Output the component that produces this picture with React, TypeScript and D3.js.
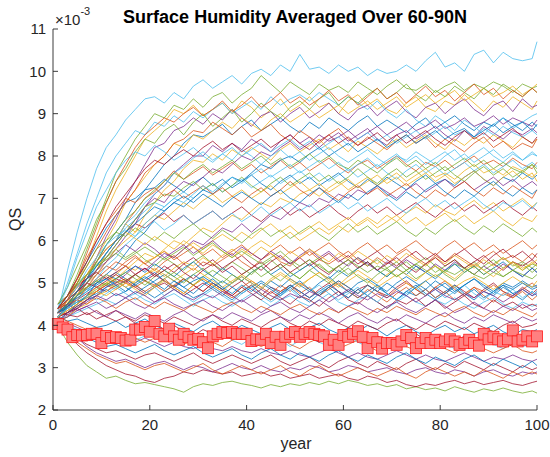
import React from "react";
import * as d3 from "d3";

// sample years for the ensemble runs (every 2 years, plus the last year)
const runYears: number[] = [...d3.range(1, 100, 2), 100];
// years for the red-square series
const meanYears: number[] = d3.range(1, 101);

// red-square series, QS in units of 1e-3
const meanQS: number[] = [
  4.03, 3.95, 3.9, 3.72, 3.77, 3.76, 3.77, 3.8, 3.8, 3.58,
  3.75, 3.7, 3.72, 3.7, 3.64, 3.66, 3.9, 3.9, 3.96, 3.85,
  4.1, 3.8, 3.74, 3.92, 3.74, 3.66, 3.8, 3.72, 3.66, 3.68,
  3.6, 3.46, 3.74, 3.8, 3.84, 3.82, 3.84, 3.8, 3.8, 3.8,
  3.63, 3.67, 3.66, 3.8, 3.58, 3.73, 3.54, 3.73, 3.8, 3.84,
  3.73, 3.8, 3.84, 3.8, 3.77, 3.74, 3.54, 3.66, 3.54, 3.77,
  3.73, 3.8, 3.86, 3.73, 3.46, 3.7, 3.6, 3.45, 3.58, 3.58,
  3.54, 3.62, 3.77, 3.7, 3.46, 3.58, 3.7, 3.58, 3.66, 3.58,
  3.62, 3.67, 3.62, 3.54, 3.58, 3.66, 3.58, 3.52, 3.8, 3.67,
  3.73, 3.67, 3.62, 3.67, 3.88, 3.62, 3.66, 3.74, 3.62, 3.74,
];

// ensemble runs, QS in units of 1e-5 (i.e. hundredths of 1e-3)
const qsRuns: number[][] = [
  [430,450,480,510,550,590,620,650,690,720,750,780,800,830,850,845,860,875,850,870,885,860,875,890,870,855,880,865,890,875,860,880,895,870,885,870,855,875,890,865,880,895,875,860,880,870,890,875,860,880,870],
  [430,450,480,500,520,540,530,550,565,545,560,575,555,570,585,565,580,560,575,590,570,555,575,590,570,585,565,580,595,575,560,580,595,575,590,570,585,600,580,565,585,600,580,595,575,590,570,585,600,580,590],
  [420,450,500,550,610,670,720,760,800,840,860,880,910,900,920,895,910,925,900,930,915,890,910,935,905,920,940,915,925,900,930,945,920,935,910,900,925,940,915,905,930,920,945,925,905,930,915,940,925,910,930],
  [430,440,470,510,560,610,650,700,740,780,820,830,860,870,890,875,900,885,910,890,870,895,905,880,900,915,890,905,925,900,885,910,920,895,915,930,905,890,915,925,900,920,935,910,895,920,930,905,935,915,920],
  [440,470,520,580,640,700,760,800,840,870,900,890,920,910,935,915,940,950,925,945,960,990,970,950,975,960,945,970,955,965,950,975,960,945,965,980,960,955,970,950,965,975,955,970,960,975,965,950,970,960,965],
  [430,530,620,700,770,820,850,885,910,935,940,925,950,935,965,980,960,975,990,970,995,1005,990,1015,1000,1040,1005,1010,995,1015,1000,1010,990,1005,995,1000,1015,1000,1025,1045,1010,1020,1000,1040,1050,1020,1045,1030,1025,1030,1070],
  [430,445,460,475,490,480,495,505,490,475,490,500,485,470,485,500,485,470,490,505,485,470,490,480,495,480,465,485,500,480,465,485,495,480,470,490,505,485,470,490,475,495,480,465,485,500,480,470,490,475,485],
  [420,430,445,460,470,485,470,480,495,480,465,480,495,480,465,475,490,475,460,480,495,475,460,475,490,470,455,475,490,470,480,465,480,495,475,460,480,470,485,465,480,495,475,460,480,470,490,475,460,480,470],
  [430,445,470,500,530,570,600,640,670,700,715,740,765,745,760,775,755,770,785,765,780,760,775,790,770,785,765,780,795,775,760,780,790,770,785,800,780,765,785,775,790,770,785,800,780,790,775,795,780,770,785],
  [430,450,480,520,560,600,640,690,720,750,780,800,830,820,850,840,860,880,865,890,875,860,885,900,880,895,910,890,905,920,900,915,930,910,925,940,915,930,945,925,940,955,930,945,960,940,950,965,945,960,970],
  [420,440,460,490,520,550,580,610,640,680,710,730,760,780,800,800,825,810,830,815,840,825,810,835,850,830,845,820,840,855,835,850,865,840,825,850,860,840,855,870,850,835,860,845,870,855,840,860,850,865,855],
  [400,360,330,305,290,275,280,270,262,265,260,255,250,242,255,262,258,265,268,262,258,252,260,255,262,258,265,260,268,262,270,265,258,262,255,260,250,255,248,252,245,255,248,242,250,245,252,245,240,245,240],
  [440,500,570,640,700,760,800,830,860,850,880,870,895,880,905,890,910,925,900,915,930,910,940,920,935,945,930,950,935,920,940,925,910,930,905,890,910,885,870,895,880,860,885,870,850,875,890,865,880,895,900],
  [410,380,355,335,320,305,295,285,280,270,265,275,280,290,285,295,290,285,290,280,285,290,280,285,275,280,285,275,280,285,275,270,280,275,265,270,260,255,262,258,265,270,262,268,260,265,270,262,258,265,268],
  [420,410,415,405,395,400,410,395,405,415,400,390,405,395,385,400,410,395,385,400,390,380,395,405,390,380,395,405,390,380,395,385,400,390,375,390,400,385,375,390,400,385,395,380,390,400,385,375,390,385,390],
  [440,460,480,490,500,515,500,510,495,480,495,510,490,475,495,510,495,480,465,480,495,475,460,480,495,475,490,470,485,500,480,465,485,470,455,475,490,470,485,465,480,460,475,490,470,455,475,465,480,460,470],
  [440,450,470,500,530,570,600,640,620,660,690,720,740,770,790,785,805,790,815,800,820,805,790,815,830,810,825,840,815,830,810,835,820,805,825,840,820,835,850,830,815,840,825,845,830,850,835,820,845,830,840],
  [410,390,370,350,335,325,315,320,310,300,310,315,305,295,305,300,290,300,310,300,295,305,295,290,300,295,305,300,290,295,305,300,290,295,300,290,285,295,300,290,285,295,290,280,290,295,285,280,290,285,290],
  [450,490,540,590,650,690,740,770,810,840,830,860,875,850,880,900,870,890,910,880,900,925,905,890,915,930,910,935,950,920,940,925,945,960,935,950,970,945,930,955,940,965,950,935,960,945,970,955,940,960,950],
  [420,440,470,500,540,570,600,630,650,670,690,680,700,715,700,720,735,715,730,745,725,740,755,735,750,765,745,760,740,755,770,750,765,780,760,745,765,780,760,775,755,770,785,765,780,760,775,790,770,785,775],
  [430,450,480,520,550,580,600,620,640,630,650,665,645,660,640,655,670,650,665,680,660,645,665,680,660,675,655,670,685,665,650,670,685,665,680,660,675,690,670,655,675,690,670,685,665,680,695,675,660,680,670],
  [440,470,510,550,590,630,660,690,700,720,725,745,730,715,735,750,730,745,725,740,755,735,720,740,755,735,750,730,745,760,740,725,745,730,750,735,720,740,755,735,745,730,750,765,745,730,750,740,760,745,755],
  [420,440,460,490,510,530,550,540,560,545,530,550,565,545,530,550,540,555,570,550,535,555,570,550,540,560,575,555,545,560,575,555,540,560,545,565,580,560,545,565,550,570,555,540,560,575,555,565,550,570,560],
  [410,420,440,460,480,500,510,530,550,570,560,580,600,590,610,630,620,640,660,650,670,690,680,700,690,710,720,705,725,740,720,735,750,730,745,760,740,755,770,750,760,745,765,780,760,770,755,775,765,750,760],
  [420,440,470,500,530,560,590,620,650,680,700,690,720,740,730,750,770,760,780,800,790,810,800,820,835,815,830,850,835,845,860,840,855,870,850,865,880,860,870,885,865,875,890,870,880,895,875,890,880,870,885],
  [440,470,500,520,545,560,580,560,575,555,540,560,545,530,550,565,545,530,550,535,520,540,555,535,550,530,545,560,540,525,545,560,540,555,535,550,530,545,560,540,525,545,535,550,530,545,560,540,550,535,545],
  [410,420,430,440,450,460,450,465,475,460,450,465,475,460,445,460,470,455,445,460,475,460,445,460,470,455,445,460,475,455,445,460,470,455,440,455,470,455,445,460,450,465,450,440,455,465,450,440,455,445,450],
  [410,390,370,355,345,335,340,330,320,330,335,325,315,325,335,320,310,320,330,320,310,320,330,315,305,315,325,310,300,315,325,310,300,315,305,295,310,320,305,295,310,300,315,305,295,310,300,290,305,295,300],
  [430,450,470,485,500,510,525,510,495,510,525,505,490,505,520,505,490,505,490,475,490,505,490,475,495,480,465,480,495,480,465,485,470,490,475,460,480,495,475,460,475,490,470,485,465,480,495,475,485,470,480],
  [430,460,500,540,580,620,660,690,720,760,780,800,830,840,860,855,880,865,850,870,845,860,875,850,835,860,845,830,850,865,840,825,845,830,815,835,850,830,845,820,840,825,810,830,845,820,835,815,830,820,840],
  [420,430,450,470,490,500,520,540,530,550,560,575,560,580,595,580,600,615,600,620,605,625,640,620,635,615,630,645,625,640,655,635,650,630,645,660,640,655,635,650,665,645,660,640,655,670,650,635,655,645,660],
  [410,405,395,385,380,370,375,365,360,370,360,350,360,350,345,355,345,340,350,340,335,345,335,330,340,330,325,335,345,335,325,335,325,320,330,340,330,320,330,320,315,325,335,325,315,325,320,330,320,315,320],
  [430,445,470,500,530,560,590,620,650,680,690,710,705,725,740,720,735,715,730,750,730,715,735,750,730,745,760,740,755,735,750,770,750,735,755,770,750,765,745,760,775,755,740,760,775,755,770,750,765,780,760],
  [450,460,480,510,540,570,600,640,660,690,710,730,760,775,795,810,790,805,820,800,815,830,810,825,840,820,835,815,830,845,825,840,855,835,850,830,845,860,840,855,870,850,860,845,865,850,870,855,845,860,850],
  [410,430,445,460,480,495,510,500,520,535,520,540,525,545,560,540,555,535,550,565,545,530,550,565,545,560,540,555,570,550,565,545,560,575,555,540,560,575,555,570,550,565,580,560,545,565,580,560,575,555,570],
  [420,400,385,370,360,350,355,345,335,345,355,340,330,340,350,335,325,335,345,330,320,335,345,330,320,335,325,315,330,340,325,315,330,320,310,325,335,320,310,325,315,305,320,330,315,305,320,310,300,315,305],
  [420,435,450,470,480,495,485,500,490,505,495,480,495,510,495,480,500,485,470,490,505,490,475,495,480,500,485,470,490,505,490,475,495,480,465,485,500,485,470,490,505,485,470,490,480,495,480,465,485,500,490],
  [420,440,460,490,520,550,580,600,620,640,660,650,670,690,675,695,710,690,705,720,700,715,730,710,725,740,720,735,715,730,745,725,740,755,735,750,730,745,760,740,755,735,750,765,745,730,750,765,745,760,740],
  [430,460,490,510,530,550,570,590,575,595,580,560,575,590,570,585,600,580,565,585,570,555,575,560,545,565,580,560,575,555,540,560,545,530,550,535,555,540,525,545,530,550,535,520,540,525,545,530,515,535,525],
  [440,470,500,540,580,600,620,610,630,615,600,620,605,625,640,620,605,625,610,595,615,630,610,625,605,620,635,615,600,620,640,620,635,615,630,645,625,610,630,615,635,650,630,615,635,620,640,625,610,630,620],
  [410,400,390,385,375,380,370,380,365,375,385,370,360,375,365,355,370,380,365,355,370,360,375,365,350,365,375,360,350,365,375,360,350,365,355,370,360,345,360,370,355,345,360,350,365,355,345,360,350,355,360],
  [450,470,495,510,525,510,525,540,520,505,520,505,490,510,495,480,500,485,470,490,475,460,480,465,450,470,460,445,465,480,460,450,470,455,440,460,450,465,445,460,440,455,470,450,440,460,445,455,440,450,445],
  [410,430,450,470,500,520,540,570,600,620,650,670,690,680,700,720,710,730,750,740,760,780,770,790,800,785,805,820,800,815,830,810,825,840,820,835,850,830,845,860,840,855,865,845,860,875,855,870,880,860,875],
  [400,380,360,345,330,320,310,315,305,295,305,310,300,290,300,310,295,285,295,305,295,285,295,305,290,280,295,305,290,280,290,300,290,280,290,300,285,275,290,300,290,280,290,280,295,285,275,290,280,290,285],
  [410,420,440,450,470,480,500,510,500,520,530,515,535,550,540,560,545,565,580,565,585,600,585,605,620,600,615,630,615,635,620,640,655,640,660,645,665,680,665,685,670,660,680,695,675,690,670,685,700,680,690],
  [420,430,440,460,470,490,500,520,540,530,550,570,560,580,600,590,610,630,620,640,620,640,660,650,670,690,680,700,690,710,700,720,710,730,715,700,720,735,715,730,745,725,740,720,735,750,730,745,725,740,730],
  [420,440,455,470,485,500,490,505,520,505,490,510,525,510,495,515,530,515,500,520,535,515,530,545,525,510,530,545,525,540,520,535,550,530,515,535,550,530,545,525,540,555,535,520,540,555,535,550,530,545,540],
  [440,490,560,620,680,720,760,790,810,800,825,810,790,805,820,800,785,805,790,815,800,780,800,815,795,810,790,805,820,800,785,800,815,795,780,800,790,810,795,780,800,815,790,805,820,800,785,805,790,810,800],
  [430,425,420,430,415,425,435,420,410,425,415,405,420,410,400,415,425,410,400,415,405,395,410,420,405,395,410,400,415,405,395,410,400,390,405,415,400,390,405,395,410,400,390,405,395,385,400,410,395,400,405],
  [430,440,455,465,475,490,505,490,475,490,505,520,505,490,505,515,500,485,500,515,500,485,505,490,510,495,480,500,515,495,480,500,510,495,480,500,515,500,485,505,490,475,495,510,495,480,500,490,505,490,495],
  [440,470,510,560,600,640,670,700,690,710,725,705,720,700,715,730,710,725,705,690,710,725,705,720,740,720,705,725,710,695,715,730,710,725,705,720,735,715,700,720,705,725,740,720,705,725,710,730,715,700,720],
  [440,460,490,520,550,580,600,620,605,590,610,595,580,600,585,570,590,575,560,580,565,585,570,555,575,560,580,565,550,570,555,575,560,545,565,550,570,555,540,560,545,565,550,535,555,540,560,545,530,550,540],
  [410,420,435,445,455,440,450,465,450,440,455,465,450,440,450,460,445,435,450,460,445,430,445,455,440,430,445,460,445,430,445,455,440,430,445,455,440,430,445,460,445,430,440,455,440,430,445,435,450,435,440],
  [430,450,480,510,550,590,620,650,670,700,720,740,760,745,765,780,760,775,790,770,785,800,780,795,775,790,805,785,800,780,770,790,775,760,780,795,775,790,770,785,765,780,795,775,790,770,785,770,760,780,770],
  [430,460,490,530,560,590,610,625,610,630,645,625,640,660,640,655,670,650,665,645,660,680,660,675,690,670,685,665,680,695,675,690,670,685,700,680,665,685,700,680,695,675,690,705,685,670,690,680,695,675,690],
  [420,430,440,425,435,420,410,420,405,395,405,390,400,385,375,390,380,370,385,375,365,380,370,360,375,385,370,360,375,365,380,370,360,375,365,355,370,380,365,355,370,360,375,365,355,370,360,350,365,355,360],
  [420,445,470,490,505,520,510,525,540,525,545,530,515,535,550,530,515,535,520,505,525,540,520,535,515,530,545,525,510,530,515,535,550,530,515,535,520,540,525,510,530,545,525,540,520,535,550,530,515,535,525],
  [420,410,400,390,395,380,370,380,370,360,370,380,365,355,365,375,360,350,365,375,360,350,360,370,355,345,360,370,355,345,355,365,350,340,355,365,350,340,350,360,345,335,350,360,345,335,345,355,340,335,340],
  [440,455,475,490,505,520,505,490,505,520,535,520,505,520,535,520,505,490,505,520,505,490,510,525,510,495,510,525,505,490,505,520,505,490,505,520,500,485,505,520,505,490,505,515,500,485,500,515,500,490,505],
  [440,450,435,445,430,420,435,425,415,430,420,410,425,435,420,410,425,415,430,420,410,425,435,420,410,425,415,430,420,405,420,430,415,405,420,410,425,415,405,420,430,415,405,420,410,425,415,405,420,410,415],
  [430,450,470,490,505,495,510,525,510,495,515,530,515,500,520,535,515,500,520,505,525,540,520,505,525,510,530,515,500,520,535,515,500,520,535,515,530,510,525,540,520,505,525,540,520,535,515,530,545,525,535],
  [420,440,455,470,460,475,490,475,460,475,490,470,485,470,455,470,485,470,455,475,490,470,455,470,485,465,480,495,475,460,475,490,470,455,475,460,475,490,470,485,465,480,495,475,460,480,470,485,465,480,470],
  [440,460,480,500,490,505,520,505,520,535,515,530,545,525,510,530,545,525,540,520,535,550,530,545,525,540,555,535,520,540,555,535,550,530,545,560,540,525,545,560,540,555,535,550,565,545,530,550,540,555,545],
  [430,445,465,480,495,510,495,480,500,515,500,485,505,490,475,495,510,490,475,495,480,500,485,470,490,505,485,470,490,505,490,475,495,480,500,485,470,490,505,485,500,480,495,510,490,475,495,485,500,485,490],
  [440,450,460,450,465,455,440,455,465,450,440,455,445,435,450,440,430,445,455,440,430,445,435,425,440,450,435,425,440,430,445,435,425,440,430,445,435,425,440,430,420,435,445,430,420,435,425,440,430,420,430],
  [420,435,450,465,480,470,485,500,485,470,490,505,490,475,495,510,495,480,500,515,500,485,505,520,505,490,510,525,510,495,515,530,515,500,520,535,520,505,525,540,525,510,530,545,530,515,535,550,535,545,555],
  [410,425,440,455,470,460,475,465,480,470,455,470,485,470,460,475,465,480,470,455,470,485,470,460,475,465,480,470,455,470,485,470,460,475,465,480,470,455,470,485,470,460,475,465,480,470,455,470,485,470,475],
  [450,470,495,520,540,555,570,555,570,585,570,555,570,585,565,580,595,575,560,575,560,545,560,575,555,540,555,540,525,540,555,540,525,540,530,515,530,545,530,515,530,520,535,520,510,525,515,530,520,510,520],
  [420,440,460,480,510,540,560,590,610,640,660,680,700,690,710,730,715,735,750,735,755,770,750,765,780,760,775,790,770,785,765,780,795,775,790,805,785,800,780,795,810,790,805,785,800,815,795,810,790,805,800],
  [440,470,510,550,600,640,680,710,740,770,790,780,800,815,800,820,835,815,830,810,825,840,820,835,850,830,815,835,850,830,845,825,840,855,835,850,830,845,860,840,825,845,860,840,855,835,850,865,845,830,845],
  [430,450,480,510,540,570,600,620,640,660,680,670,690,705,690,710,695,680,700,715,700,685,705,720,700,690,710,725,705,690,710,695,715,730,710,695,715,700,720,735,715,700,720,705,725,740,720,705,725,710,720],
  [430,460,510,570,630,690,740,780,820,850,870,890,880,900,915,895,910,930,905,920,940,915,930,950,925,940,920,935,955,930,945,920,940,960,935,950,925,945,965,940,955,930,950,970,945,960,935,955,940,960,950],
];

const xTicks: number[] = [0, 20, 40, 60, 80, 100];
const yTicks: number[] = [2, 3, 4, 5, 6, 7, 8, 9, 10, 11];
const palette: string[] = ["#0072BD", "#D95319", "#EDB120", "#7E2F8E", "#77AC30", "#4DBEEE", "#A2142F"];

const FONT = "'Liberation Sans', Arial, Helvetica, sans-serif";

export default function App() {
  const W = 550;
  const H = 457;
  const x = d3.scaleLinear().domain([0, 100]).range([53, 537]);
  const y = d3.scaleLinear().domain([2, 11]).range([410, 29]);
  const runLine = d3
    .line<number>()
    .x((_, i) => x(runYears[i]))
    .y((d) => y(d / 100));
  const axisColor = "#262626";
  const sq = 11;

  return (
    <svg
      width={W}
      height={H}
      viewBox={`0 0 ${W} ${H}`}
      style={{ position: "absolute", left: 0, top: 0, background: "#fff", fontFamily: FONT }}
    >
      <rect x={0} y={0} width={W} height={H} fill="#fff" />
      <g>
        {qsRuns.map((run, i) => (
          <path
            key={i}
            d={runLine(run) || ""}
            fill="none"
            stroke={palette[i % palette.length]}
            strokeWidth={0.8}
            strokeLinejoin="round"
          />
        ))}
      </g>
      <g>
        {meanQS.map((v, i) => (
          <rect
            key={i}
            x={x(meanYears[i]) - sq / 2}
            y={y(v) - sq / 2}
            width={sq}
            height={sq}
            fill="#FF8080"
            stroke="#FF1A1A"
            strokeWidth={0.8}
          />
        ))}
      </g>
      {/* axes */}
      <line x1={x(0)} x2={x(0)} y1={y(11)} y2={y(2)} stroke={axisColor} strokeWidth={0.9} />
      <line x1={x(0)} x2={x(100)} y1={y(2)} y2={y(2)} stroke={axisColor} strokeWidth={0.9} />
      {yTicks.map((t) => (
        <g key={"y" + t}>
          <line x1={x(0)} x2={x(0) + 5} y1={y(t)} y2={y(t)} stroke={axisColor} strokeWidth={0.9} />
          <text x={x(0) - 7} y={y(t)} dy="0.35em" textAnchor="end" fontSize={15} fill={axisColor}>
            {t}
          </text>
        </g>
      ))}
      {xTicks.map((t) => (
        <g key={"x" + t}>
          <line x1={x(t)} x2={x(t)} y1={y(2)} y2={y(2) - 5} stroke={axisColor} strokeWidth={0.9} />
          <text x={x(t)} y={y(2) + 20} textAnchor="middle" fontSize={15} fill={axisColor}>
            {t}
          </text>
        </g>
      ))}
      {/* exponent */}
      <text x={55} y={25} fontSize={15} fill={axisColor}>
        ×10
        <tspan dy={-10} fontSize={11}>
          -3
        </tspan>
      </text>
      {/* title */}
      <text x={295} y={23} textAnchor="middle" fontSize={18} fontWeight="bold" fill="#000">
        Surface Humidity Averaged Over 60-90N
      </text>
      {/* axis labels */}
      <text x={296} y={449} textAnchor="middle" fontSize={16} fill={axisColor}>
        year
      </text>
      <text
        transform={`translate(21, ${(y(2) + y(11)) / 2}) rotate(-90)`}
        textAnchor="middle"
        fontSize={16}
        fill={axisColor}
      >
        QS
      </text>
    </svg>
  );
}
